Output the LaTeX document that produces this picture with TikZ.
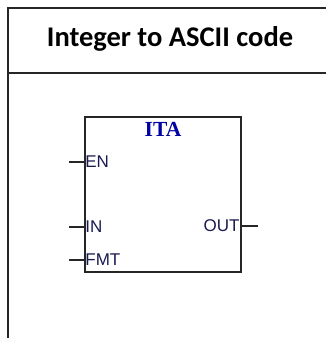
\documentclass[tikz,border=0pt]{standalone}
\usepackage{fontspec}
\usepackage{tikz}
\usetikzlibrary{calc,positioning}
\newfontfamily\titlefont{Carlito}
\newfontfamily\pinfont{Liberation Sans}
\newfontfamily\blockfont{Liberation Serif}
\definecolor{myblue}{RGB}{0,0,165}
\definecolor{mynavy}{RGB}{25,25,80}

\begin{document}
\begin{tikzpicture}[x=1pt,y=-1pt,
  frame/.style={line width=1.6pt, black!85},
  pinline/.style={line width=1.2pt, black!85},
  pinlabel/.style={inner sep=0pt, text=mynavy, font=\pinfont\fontsize{17}{18}\selectfont}]
  \useasboundingbox (0,0) rectangle (325,338);

  % Outer frame and header
  \draw[frame] (8,345) -- (8,8) -- (335,8);
  \draw[frame] (8,73) -- (335,73);
  \node[font=\titlefont\bfseries\fontsize{28.5}{30}\selectfont] (title) at (170,39) {Integer to ASCII code};

  % Block
  \node[draw, line width=1.6pt, black!85, minimum width=156pt, minimum height=155pt, inner sep=0pt] (ita) at (163,194.5) {};
  \node[text=myblue, font=\blockfont\bfseries\fontsize{21.5}{22}\selectfont, below=3pt of ita.north] (itaname) {ITA};

  % Input pins
  \coordinate (en) at (69,162);
  \coordinate (in) at (69,227);
  \coordinate (fmt) at (69,260);
  \draw[pinline] (en) -- (en -| ita.west);
  \draw[pinline] (in) -- (in -| ita.west);
  \draw[pinline] (fmt) -- (fmt -| ita.west);
  \node[pinlabel, anchor=west] (enl) at ($(en -| ita.west)+(1,0)$) {EN};
  \node[pinlabel, anchor=west] (inl) at ($(in -| ita.west)+(1,0)$) {IN};
  \node[pinlabel, anchor=west] (fmtl) at ($(fmt -| ita.west)+(1,0)$) {FMT};

  % Output pin
  \coordinate (out) at (258,226);
  \draw[pinline] (out -| ita.east) -- (out);
  \node[pinlabel, anchor=east] (outl) at ($(out -| ita.east)+(-2,0)$) {OUT};
\end{tikzpicture}
\end{document}
